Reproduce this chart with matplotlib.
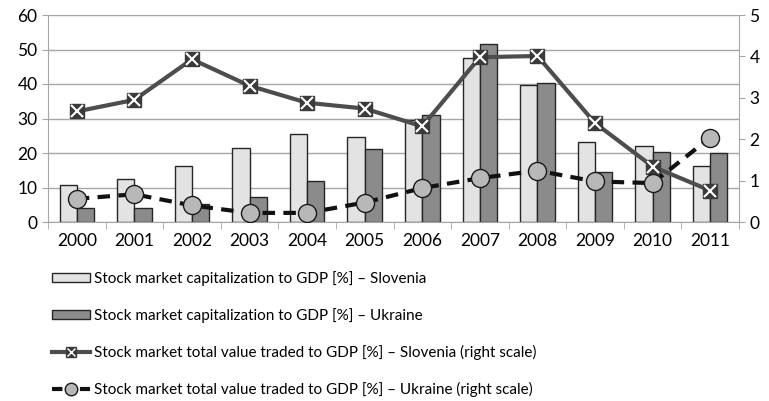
import numpy as np
import matplotlib.pyplot as plt
from matplotlib.legend_handler import HandlerTuple
from matplotlib.patches import Patch
from matplotlib.lines import Line2D

plt.rcParams['font.family'] = ['Lato', 'DejaVu Sans']

years = ['2000', '2001', '2002', '2003', '2004', '2005',
         '2006', '2007', '2008', '2009', '2010', '2011']
cap_slo = [10.7, 12.5, 16.1, 21.4, 25.6, 24.6, 29.6, 47.6, 39.7, 23.3, 22.1, 16.3]
cap_ukr = [4.1, 4.1, 5.1, 7.2, 11.8, 21.3, 30.9, 51.5, 40.2, 14.4, 20.3, 20.0]
trd_slo = [2.67, 2.95, 3.93, 3.29, 2.88, 2.74, 2.31, 3.98, 4.01, 2.39, 1.34, 0.76]
trd_ukr = [0.56, 0.67, 0.40, 0.22, 0.22, 0.47, 0.82, 1.06, 1.24, 0.98, 0.94, 2.04]

x = np.arange(len(years))
w = 0.3
grid_c = '#a6a6a6'
slo_c = '#4d4d4d'
light = '#e3e3e3'
dark = '#8b8b8b'

fig = plt.figure(figsize=(7.69, 4.01), dpi=100)
ax = fig.add_axes([48 / 769, 1 - 222 / 401, (739 - 48) / 769, (222 - 15) / 401])
ax2 = ax.twinx()

ax.bar(x - w / 2, cap_slo, w, color=light, edgecolor='#262626', linewidth=1, zorder=2)
ax.bar(x + w / 2, cap_ukr, w, color=dark, edgecolor='#262626', linewidth=1, zorder=2)
ax.set_ylim(0, 60)
ax.set_yticks(range(0, 61, 10))
ax.set_xlim(-0.5, len(years) - 0.5)
ax.set_xticks(x)
ax.set_xticklabels(years)
ax.set_xticks(np.arange(-0.5, len(years), 1), minor=True)
ax.tick_params(axis='x', which='major', length=0, pad=8, labelsize=12.5)
ax.tick_params(axis='x', which='minor', length=5, color=grid_c)
ax.tick_params(axis='y', length=4, color=grid_c, labelsize=12.5)
ax.grid(axis='y', color=grid_c, linewidth=1, zorder=0)
ax.set_axisbelow(True)

ax2.plot(x, trd_slo, color=slo_c, linewidth=3, marker='s', markersize=10,
         markerfacecolor='#3a3a3a', markeredgecolor='#3a3a3a', zorder=3)
ax2.plot(x, trd_slo, linestyle='none', marker='x', markersize=9,
         markeredgewidth=1.5, color='white', zorder=4)
ax2.plot(x, trd_ukr, color='#111111', linewidth=3, linestyle=(0, (3, 2)), marker='o',
         markersize=13, markerfacecolor='#b8b8b8', markeredgecolor='#1a1a1a',
         markeredgewidth=1, zorder=3)
ax2.set_ylim(0, 5)
ax2.set_yticks(range(0, 6))
ax2.tick_params(axis='y', length=4, color=grid_c, labelsize=12.5)

for a in (ax, ax2):
    for s in a.spines.values():
        s.set_visible(False)
ax.spines['left'].set_visible(True)
ax.spines['left'].set_color(grid_c)
ax.spines['bottom'].set_visible(True)
ax.spines['bottom'].set_color(grid_c)
ax2.spines['right'].set_visible(True)
ax2.spines['right'].set_color(grid_c)

# legend proxies with smaller markers, as in the reference
h_slo = Line2D([], [], color=slo_c, linewidth=3, marker='s', markersize=7,
               markerfacecolor='#3a3a3a', markeredgecolor='#3a3a3a')
h_slo_x = Line2D([], [], linestyle='none', marker='x', markersize=6,
                 markeredgewidth=1, color='white')
h_ukr = Line2D([], [], color='#111111', linewidth=3, linestyle=(0, (2.5, 4.2)), marker='o',
               markersize=9, markerfacecolor='#b8b8b8', markeredgecolor='#1a1a1a',
               markeredgewidth=1)
handles = [Patch(facecolor=light, edgecolor='#262626'),
           Patch(facecolor=dark, edgecolor='#262626'),
           (h_slo, h_slo_x), h_ukr]
labels = ['Stock market capitalization to GDP [%] – Slovenia',
          'Stock market capitalization to GDP [%] – Ukraine',
          'Stock market total value traded to GDP [%] – Slovenia (right scale)',
          'Stock market total value traded to GDP [%] – Ukraine (right scale)']
fig.legend(handles, labels, loc='upper left', bbox_to_anchor=(52 / 769, 1 - 271 / 401),
           frameon=False, fontsize=11, borderpad=0, borderaxespad=0,
           handlelength=2.5, handleheight=0.6, handletextpad=0.25,
           labelspacing=1.45, handler_map={tuple: HandlerTuple(ndivide=1)})

fig.savefig('out.png', dpi=100)
